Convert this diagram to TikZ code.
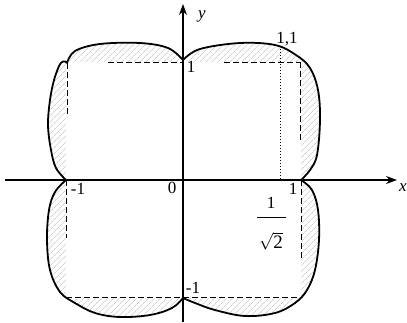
\documentclass[tikz,border=0pt]{standalone}
\usepackage{fontspec}
\setmainfont{Liberation Serif}
\usetikzlibrary{arrows.meta,patterns.meta}
\begin{document}
\begin{tikzpicture}[x=1pt,y=-1pt,
  curve/.style={line width=1.8pt,line join=round},
  axis/.style={line width=1.1pt,-{Stealth[length=11pt,width=8pt]}},
  sq/.style={line width=0.9pt,dash pattern=on 6pt off 3pt},
  dots/.style={line width=0.6pt,dash pattern=on 1pt off 2pt},
  lab/.style={inner sep=0pt,font=\fontsize{17}{19}\selectfont},
  hatch/.style={pattern={Lines[angle=45,distance=4pt,line width=0.5pt]},pattern color=gray!55}]
\useasboundingbox (0,0) rectangle (407,322);

% hatched band between curve and unit square
\fill[hatch,even odd rule]
  plot[smooth,tension=0.6] coordinates {(183,60) (200,49) (240,43) (275,45) (296,55) (310,68) (318,90) (320,120) (317,155) (310,170) (301,180)}
  -- plot[smooth,tension=0.6] coordinates {(301,180) (312,190) (318,210) (319,240) (315,270) (307,290) (295,303) (275,313) (245,316) (215,310) (195,303) (183,298)}
  -- plot[smooth,tension=0.6] coordinates {(183,298) (172,308) (150,315) (120,317) (95,313) (75,303) (60,292) (50,270) (47,240) (49,210) (55,192) (66,180)}
  -- plot[smooth,tension=0.6] coordinates {(66,180) (56,168) (51,150) (48,125) (50,100) (54,80) (59,66)}
  .. controls (61,61) and (65,60) .. (67,63)
  -- plot[smooth,tension=0.6] coordinates {(67,63) (75,51) (100,44) (140,43) (168,48) (183,60)}
  -- cycle
  (66,62) rectangle (301,298);

% the curve
\draw[curve]
  plot[smooth,tension=0.6] coordinates {(183,60) (200,49) (240,43) (275,45) (296,55) (310,68) (318,90) (320,120) (317,155) (310,170) (301,180)}
  plot[smooth,tension=0.6] coordinates {(301,180) (312,190) (318,210) (319,240) (315,270) (307,290) (295,303) (275,313) (245,316) (215,310) (195,303) (183,298)}
  plot[smooth,tension=0.6] coordinates {(183,298) (172,308) (150,315) (120,317) (95,313) (75,303) (60,292) (50,270) (47,240) (49,210) (55,192) (66,180)}
  plot[smooth,tension=0.6] coordinates {(66,180) (56,168) (51,150) (48,125) (50,100) (54,80) (59,66)}
  (59,66) .. controls (61,61) and (65,60) .. (67,63)
  plot[smooth,tension=0.6] coordinates {(67,63) (75,51) (100,44) (140,43) (168,48) (183,60)};

% dashed pieces of the unit square
\coordinate (a1) at (108,62);  \coordinate (a2) at (183,62);
\coordinate (b1) at (67,63);   \coordinate (b2) at (67,117);
\coordinate (c1) at (66,180);  \coordinate (c2) at (66,238);
\coordinate (d1) at (66,297);  \coordinate (d2) at (301,297);
\coordinate (e1) at (224,62);  \coordinate (e2) at (301,62);
\coordinate (f1) at (300,62);  \coordinate (f2) at (300,143);
\coordinate (g1) at (301,180); \coordinate (g2) at (301,259);
\draw[sq] (a1) -- (a2) (b1) -- (b2) (c1) -- (c2) (d1) -- (d2)
          (e1) -- (e2) (f1) -- (f2) (g1) -- (g2);

% dotted line at 1/sqrt2
\coordinate (h1) at (280,46); \coordinate (h2) at (280,180);
\draw[dots] (h1) -- (h2);

% axes
\coordinate (xs) at (5,180);   \coordinate (xe) at (397,180);
\coordinate (ys) at (183,322); \coordinate (ye) at (183,4);
\draw[axis] (xs) -- (xe);
\draw[axis] (ys) -- (ye);

% labels
\node[lab] (ly) at (202,16) {\itshape y};
\node[lab] (lx) at (403,188) {\itshape x};
\node[lab] (l1y) at (191,67) {1};
\node[lab] (l0) at (172,188) {0};
\node[lab] (lm1x) at (78,189) {-1};
\node[lab] (l1x) at (293,189) {1};
\node[lab] (lm1y) at (193,288) {-1};
\node[lab] (l11) at (287,39) {1,1};
\node[lab] (fn) at (271,203) {1};
\coordinate (fb1) at (257,217); \coordinate (fb2) at (286,217);
\draw[line width=0.8pt] (fb1) -- (fb2);
\node[lab,font=\fontsize{19}{21}\selectfont] (fd) at (271,241) {$\sqrt{\mbox{2}}$};
\end{tikzpicture}
\end{document}
